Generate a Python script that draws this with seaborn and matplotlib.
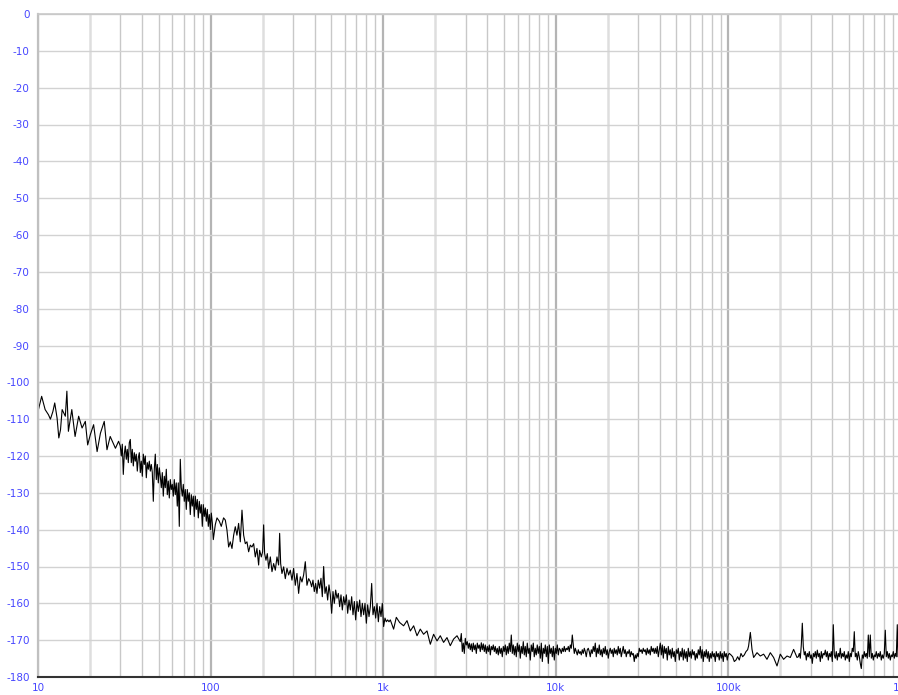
"""
Noise spectrum, level (dB) vs frequency (log), 10 Hz .. 1 MHz.
"""

import numpy as np
import pandas as pd
import matplotlib
matplotlib.use("Agg")
import matplotlib.pyplot as plt
import seaborn as sns

# --- values, band by band ---
# 10 .. 30 Hz
b1_freq_hz = [10.0, 10.5, 11.0, 11.5, 11.8, 12.2, 12.5, 12.9, 13.2, 13.5,
              13.8, 14.4, 14.7, 15.0, 15.7, 16.4, 17.2, 18.0, 18.8, 19.4,
              20.1, 21.0, 22.0, 23.0, 24.2, 25.1, 26.2, 28.1, 29.3]
b1_level_db = [-107.9, -103.8, -107.4, -108.8, -110.0, -107.9, -105.6, -109.7, -115.1, -112.9,
               -107.4, -109.2, -102.4, -113.3, -107.4, -114.7, -109.2, -112.4, -110.6, -117.0,
               -114.2, -111.5, -118.8, -113.8, -110.6, -118.3, -114.7, -117.9, -116.0]

# 30 .. 120 Hz
b2_freq_hz = [29.98, 30.38, 30.79, 31.20, 31.62, 32.05, 32.48, 32.91, 33.36, 33.80,
              34.26, 34.72, 35.18, 35.66, 36.14, 36.62, 37.11, 37.61, 38.12, 38.63,
              39.15, 39.67, 40.21, 40.75, 41.30, 41.85, 42.41, 42.98, 43.56, 44.14,
              44.74, 45.34, 45.95, 46.56, 47.19, 47.82, 48.46, 49.11, 49.77, 50.44,
              51.12, 51.80, 52.50, 53.20, 53.92, 54.64, 55.37, 56.12, 56.87, 57.63,
              58.41, 59.19, 59.99, 60.79, 61.61, 62.43, 63.27, 64.12, 64.98, 65.86,
              66.74, 67.64, 68.55, 69.47, 70.40, 71.35, 72.30, 73.28, 74.26, 75.26,
              76.27, 77.29, 78.33, 79.39, 80.45, 81.53, 82.63, 83.74, 84.86, 86.00,
              87.16, 88.33, 89.52, 90.72, 91.94, 93.17, 94.43, 95.70, 96.98, 98.28,
              99.60, 100.94, 102.30, 103.67, 106.5, 108.9, 112.3, 115.3, 118.9]
b2_level_db = [-117.3, -120.0, -116.8, -125.0, -119.5, -117.3, -120.9, -118.2, -121.8, -116.4,
               -115.5, -121.8, -118.2, -122.7, -119.1, -121.4, -119.5, -124.1, -120.5, -119.1,
               -124.5, -121.4, -125.5, -119.5, -122.3, -120.0, -125.9, -121.8, -123.6, -121.4,
               -124.1, -122.3, -124.5, -132.3, -123.6, -119.5, -126.4, -122.3, -127.3, -123.2,
               -125.5, -128.6, -124.5, -130.9, -125.5, -128.6, -123.6, -130.5, -126.8, -131.4,
               -126.4, -129.1, -127.7, -130.9, -126.4, -130.5, -127.3, -133.6, -127.3, -139.1,
               -120.9, -128.6, -130.9, -127.7, -132.3, -129.1, -134.5, -129.1, -132.3, -130.0,
               -135.9, -130.5, -133.6, -130.9, -136.4, -130.9, -134.5, -131.8, -136.8, -132.3,
               -135.5, -133.2, -139.1, -133.2, -136.4, -134.1, -137.7, -134.5, -139.1, -135.9,
               -140.0, -135.5, -138.2, -142.7, -138.6, -136.8, -137.7, -139.1, -136.8]

# 120 .. 370 Hz
b3_freq_hz = [121.7, 124.4, 127.2, 130.0, 133.0, 136.0, 139.0, 142.1, 145.3, 148.6,
              152.0, 155.4, 158.9, 162.4, 166.1, 169.8, 173.6, 177.6, 181.5, 185.6,
              189.8, 192.3, 196.7, 200.2, 202.9, 205.6, 209.3, 213.1, 216.9, 221.8,
              226.8, 231.9, 237.1, 242.4, 247.8, 251.2, 254.6, 259.1, 265.0, 270.9,
              277.0, 283.2, 289.5, 296.1, 302.7, 309.5, 316.5, 323.6, 330.9, 338.3,
              345.9, 353.7, 361.6, 369.8]
b3_level_db = [-137.4, -140.1, -144.7, -143.3, -145.1, -141.5, -139.2, -141.5, -138.3, -143.3,
               -134.7, -141.5, -143.8, -143.3, -146.0, -144.2, -144.7, -143.8, -147.4, -145.1,
               -149.6, -145.6, -147.4, -146.0, -138.7, -146.5, -148.3, -146.5, -150.5, -147.4,
               -151.4, -149.2, -151.0, -147.4, -149.6, -141.0, -149.2, -151.9, -150.1, -153.3,
               -150.5, -152.3, -151.0, -153.7, -150.5, -155.1, -151.9, -157.3, -152.8, -154.2,
               -152.3, -148.7, -155.1, -153.3]

# 380 Hz .. 1.1 kHz
b4_freq_hz = [378.1, 384.9, 391.8, 398.8, 406.0, 413.3, 420.7, 428.3, 436.0, 443.8,
              451.8, 459.9, 468.1, 476.6, 485.1, 493.9, 502.7, 511.8, 521.0, 530.3,
              539.9, 549.6, 559.4, 569.5, 579.7, 590.1, 600.7, 611.5, 622.5, 633.7,
              645.0, 656.6, 668.4, 680.4, 692.6, 705.0, 717.7, 730.6, 743.7, 757.0,
              770.6, 784.5, 798.5, 812.9, 827.5, 842.3, 857.4, 872.8, 888.5, 904.5,
              920.7, 937.3, 954.1, 971.2, 988.1, 1005.8, 1023.9, 1042.3, 1061.0, 1080.1,
              1099.5]
b4_level_db = [-154.1, -155.5, -153.7, -156.8, -154.6, -157.3, -153.7, -155.9, -153.2, -158.2,
               -150.0, -157.3, -155.5, -159.1, -155.0, -157.7, -162.7, -156.8, -160.0, -156.4,
               -158.6, -157.3, -160.9, -157.7, -161.8, -158.2, -160.4, -157.7, -162.7, -159.1,
               -161.8, -158.2, -163.1, -159.5, -164.5, -159.5, -162.2, -159.1, -163.6, -160.0,
               -163.1, -160.0, -165.4, -160.4, -163.6, -160.9, -154.6, -163.1, -160.9, -164.0,
               -160.0, -165.0, -160.9, -163.6, -160.0, -166.3, -164.0, -165.0, -164.5, -165.0,
               -164.5]

# 1.1 .. 2.7 kHz
b5_freq_hz = [1149, 1191, 1245, 1313, 1374, 1436, 1501, 1570, 1640, 1714,
              1794, 1875, 1959, 2050, 2142, 2238, 2342, 2447, 2558, 2677]
b5_level_db = [-167.0, -163.8, -165.2, -166.1, -164.7, -167.5, -166.1, -168.8, -167.0, -168.4,
               -167.5, -171.1, -168.4, -170.2, -168.8, -170.6, -169.3, -171.5, -169.7, -168.8]

# 2.8 .. 10.5 kHz
b6_freq_hz = [2797, 2835, 2873, 2912, 2951, 2990, 3030, 3071, 3112, 3154,
              3196, 3239, 3283, 3327, 3372, 3417, 3463, 3509, 3556, 3604,
              3652, 3701, 3751, 3801, 3852, 3904, 3956, 4010, 4063, 4118,
              4173, 4229, 4286, 4343, 4402, 4461, 4521, 4581, 4643, 4705,
              4768, 4832, 4897, 4963, 5029, 5097, 5165, 5235, 5305, 5376,
              5449, 5522, 5596, 5671, 5747, 5824, 5902, 5982, 6062, 6143,
              6226, 6309, 6394, 6480, 6567, 6655, 6744, 6834, 6926, 7019,
              7113, 7208, 7305, 7403, 7502, 7603, 7705, 7808, 7913, 8025,
              8133, 8242, 8353, 8465, 8578, 8694, 8810, 8929, 9049, 9170,
              9293, 9418, 9545, 9673, 9802, 9934, 10068, 10203, 10340, 10479]
b6_level_db = [-170.4, -168.2, -173.1, -170.8, -173.6, -169.5, -171.3, -170.4, -172.2, -170.8,
               -172.6, -171.0, -173.1, -170.8, -172.6, -171.3, -173.6, -170.8, -172.2, -171.3,
               -173.1, -170.7, -172.6, -171.0, -173.1, -171.3, -173.6, -171.7, -173.1, -171.3,
               -174.0, -171.7, -172.6, -171.3, -173.1, -171.7, -173.6, -172.2, -174.0, -171.7,
               -173.6, -172.2, -174.5, -171.7, -173.1, -171.3, -174.0, -171.7, -173.6, -170.8,
               -173.1, -168.6, -173.6, -171.3, -174.0, -171.7, -174.5, -170.8, -173.1, -171.3,
               -174.9, -171.7, -173.6, -170.4, -174.0, -171.7, -174.5, -170.8, -173.6, -172.2,
               -175.4, -171.3, -173.1, -170.8, -174.5, -172.2, -174.0, -171.3, -173.6, -171.7,
               -174.9, -170.8, -175.8, -172.2, -173.6, -171.3, -174.5, -171.7, -176.3, -171.3,
               -173.6, -172.2, -174.5, -171.7, -175.4, -172.2, -173.6, -171.3, -174.0, -172.2]

# 10.6 .. 37 kHz
b7_freq_hz = [10618, 10760, 10905, 11051, 11199, 11350, 11502, 11657, 11813, 11972,
              12133, 12295, 12461, 12628, 12798, 12969, 13143, 13320, 13498, 13680,
              13863, 14049, 14238, 14429, 14622, 14819, 15017, 15219, 15423, 15630,
              15840, 16052, 16268, 16486, 16707, 16932, 17159, 17389, 17623, 17859,
              18099, 18342, 18588, 18838, 19090, 19347, 19606, 19870, 20136, 20407,
              20681, 20958, 21240, 21525, 21814, 22107, 22403, 22704, 23009, 23318,
              23631, 23948, 24269, 24595, 24925, 25260, 25599, 25943, 26291, 26644,
              27001, 27364, 27731, 28103, 28481, 28863, 29250, 29643, 30041, 30444,
              30853, 31267, 31687, 32112, 32543, 32980, 33422, 33871, 34326, 34787,
              35254, 35727, 36207, 36693, 37186]
b7_level_db = [-172.6, -173.6, -172.2, -173.1, -171.7, -173.1, -172.2, -172.6, -171.7, -173.1,
               -171.3, -172.2, -168.6, -171.3, -173.6, -172.2, -173.1, -174.0, -172.6, -173.6,
               -173.1, -174.0, -172.6, -173.6, -172.2, -173.1, -174.5, -172.6, -172.2, -173.1,
               -174.5, -172.6, -173.6, -171.7, -173.1, -170.8, -174.5, -172.2, -173.6, -171.3,
               -174.0, -172.6, -174.5, -172.2, -173.6, -171.7, -174.0, -172.6, -174.9, -173.1,
               -172.2, -173.6, -172.6, -174.5, -172.2, -173.6, -172.6, -174.0, -171.7, -173.6,
               -172.2, -174.5, -173.1, -171.7, -173.6, -172.6, -174.5, -173.1, -173.6, -172.6,
               -174.5, -173.1, -174.0, -173.6, -175.8, -174.0, -174.9, -173.6, -174.5, -172.2,
               -173.1, -172.6, -173.6, -172.2, -173.1, -172.6, -174.0, -172.2, -173.6, -172.6,
               -174.0, -171.7, -173.1, -172.2, -173.6]

# 37 .. 130 kHz
b8_freq_hz = [37707, 38213, 38726, 39246, 39773, 40307, 40848, 41396, 41951, 42514,
              43085, 43663, 44250, 44844, 45446, 46055, 46673, 47300, 47935, 48578,
              49230, 49891, 50561, 51240, 51927, 52624, 53331, 54046, 54772, 55507,
              56252, 57007, 57772, 58548, 59334, 60130, 60937, 61755, 62584, 63424,
              64275, 65138, 66012, 66898, 67796, 68706, 69628, 70563, 71510, 72470,
              73442, 74428, 75427, 76440, 77466, 78505, 79559, 80627, 81709, 82806,
              83917, 85044, 86185, 87342, 88514, 89702, 90906, 92126, 93363, 94616,
              95886, 97173, 98477, 99799, 101213, 103490, 105820, 108200, 110640, 113120,
              115660, 118260, 120920, 123640, 126420, 129260]
b8_level_db = [-172.2, -173.6, -171.7, -174.5, -172.6, -170.8, -174.0, -171.3, -174.9, -171.7,
               -173.6, -172.2, -175.4, -171.7, -174.0, -172.6, -174.9, -172.2, -174.5, -173.1,
               -175.8, -172.6, -173.6, -172.2, -175.4, -173.1, -174.5, -172.2, -175.4, -172.6,
               -174.9, -173.1, -175.8, -172.2, -174.5, -173.1, -174.9, -172.6, -174.0, -173.1,
               -175.4, -173.6, -174.9, -172.6, -174.0, -171.7, -174.9, -172.6, -175.8, -173.1,
               -174.5, -172.6, -174.9, -173.1, -175.8, -173.6, -174.9, -173.1, -174.5, -173.6,
               -175.8, -173.1, -174.5, -173.6, -175.4, -173.1, -174.9, -173.6, -175.8, -173.1,
               -174.5, -173.6, -175.4, -174.0, -173.6, -174.0, -174.5, -175.8, -175.4, -174.5,
               -175.4, -173.6, -174.5, -174.0, -173.1, -172.6]

# 130 .. 250 kHz
b9_freq_hz = [130900, 134000, 137000, 140000, 146500, 153000, 160000, 167300, 174900,
              182800, 191300, 199800, 208800, 218600, 228400, 238700, 249800]
b9_level_db = [-171.6, -167.9, -172.5, -174.7, -173.4, -174.3, -173.8, -175.2, -173.4,
               -174.7, -177.0, -173.8, -175.2, -174.3, -174.7, -172.5, -174.7]

# 250 kHz .. 960 kHz
b10_freq_hz = [254110, 257520, 260980, 264480, 268030, 271630, 275280, 278970, 282720, 286510,
               290360, 294260, 298210, 302210, 306270, 310380, 314550, 318770, 323050, 327390,
               331780, 336240, 340750, 345320, 349960, 354660, 359420, 364250, 369140, 374090,
               379120, 384210, 389360, 394590, 399890, 405260, 410700, 416210, 421800, 427460,
               433200, 439010, 444910, 450880, 456930, 463060, 469280, 475580, 481960, 488430,
               494990, 501630, 508370, 515190, 522110, 529110, 536220, 543420, 550710, 558110,
               565600, 573190, 580890, 588840, 596750, 604760, 612870, 621100, 629430, 637880,
               646440, 655120, 663920, 672830, 681860, 691010, 700290, 709690, 719210, 728870,
               738650, 748560, 758610, 768790, 779110, 789570, 800160, 810900, 821790, 832820,
               843990, 855320, 866800, 878440, 890230, 902180, 914290, 926560, 939000, 951600,
               960100]
b10_level_db = [-174.5, -173.6, -174.9, -171.3, -165.4, -171.8, -174.0, -173.1, -175.4, -173.6,
                -174.5, -173.1, -174.9, -174.0, -176.3, -173.6, -174.5, -173.1, -174.9, -172.7,
                -174.5, -173.6, -175.8, -173.1, -174.9, -173.6, -174.0, -172.7, -174.5, -173.1,
                -175.4, -173.6, -174.5, -173.1, -175.8, -165.8, -174.0, -174.9, -173.1, -175.4,
                -173.6, -174.5, -172.2, -174.9, -173.6, -174.5, -173.1, -175.4, -174.0, -174.9,
                -173.1, -175.8, -173.6, -174.5, -172.2, -173.1, -167.7, -174.5, -173.6, -175.4,
                -173.1, -174.5, -176.3, -177.7, -174.0, -174.9, -173.1, -174.5, -173.6, -174.9,
                -168.6, -174.5, -168.6, -174.9, -173.6, -175.4, -174.0, -174.5, -173.1, -174.9,
                -173.6, -174.5, -173.1, -175.4, -174.0, -174.9, -173.6, -167.3, -174.5, -173.1,
                -174.9, -173.6, -175.4, -174.0, -174.5, -173.1, -174.9, -173.6, -174.5, -165.8,
                -174.5]

y_ticks = list(range(0, -190, -10))
x_ticks = [10, 100, 1e3, 1e4, 1e5, 1e6]
x_tick_labels = ["10", "100", "1k", "10k", "100k", "1M"]

bands = [(b1_freq_hz, b1_level_db), (b2_freq_hz, b2_level_db), (b3_freq_hz, b3_level_db),
         (b4_freq_hz, b4_level_db), (b5_freq_hz, b5_level_db), (b6_freq_hz, b6_level_db),
         (b7_freq_hz, b7_level_db), (b8_freq_hz, b8_level_db), (b9_freq_hz, b9_level_db),
         (b10_freq_hz, b10_level_db)]
for f, l in bands:
    assert len(f) == len(l), (len(f), len(l))

trace = pd.DataFrame({
    "freq": [v for f, _ in bands for v in f],
    "level": [v for _, l in bands for v in l],
})

sns.set_style("white")
plt.rcParams["font.family"] = ["DejaVu Sans"]

fig = plt.figure(figsize=(8.98, 6.95), dpi=100)
# right edge (1M) sits just past the figure border, as in the original
ax = fig.add_axes([38 / 898, 18 / 695, 863 / 898, 663 / 695])

sns.lineplot(data=trace, x="freq", y="level", ax=ax, color="black",
             linewidth=0.8, estimator=None, sort=False)

ax.set_xscale("log")
ax.set_xlim(10, 1e6)
ax.set_ylim(-180, 0)
ax.set_xlabel("")
ax.set_ylabel("")

ax.set_yticks(y_ticks)
ax.set_yticklabels([str(v) for v in y_ticks])
ax.set_xticks(x_ticks)
ax.set_xticklabels(x_tick_labels)
minor = [m * 10 ** d for d in range(1, 6) for m in range(2, 10)]
ax.set_xticks(minor, minor=True)
ax.xaxis.set_minor_formatter(matplotlib.ticker.NullFormatter())

ax.tick_params(which="both", length=0, colors="#4646ff", labelsize=7.5)
ax.tick_params(axis="y", pad=6)
ax.tick_params(axis="x", pad=4)

ax.grid(axis="y", which="major", color="#d2d2d2", linewidth=1)
ax.grid(axis="x", which="major", color="#b4b4b4", linewidth=1.6)
ax.grid(axis="x", which="minor", color="#c8c8c8", linewidth=1)
for tick, loc in zip(ax.xaxis.get_minor_ticks(), minor):
    if round(loc / 10 ** np.floor(np.log10(loc))) == 2:
        tick.gridline.set_color("#dedede")
        tick.gridline.set_linewidth(1.8)
ax.set_axisbelow(True)

ax.spines["left"].set_color("#c0c0c0")
ax.spines["left"].set_linewidth(1.6)
ax.spines["top"].set_color("#c8c8c8")
ax.spines["top"].set_linewidth(1.2)
ax.spines["bottom"].set_color("#333333")
ax.spines["bottom"].set_linewidth(1.5)
ax.spines["right"].set_visible(False)

fig.savefig("out.png", dpi=100)
